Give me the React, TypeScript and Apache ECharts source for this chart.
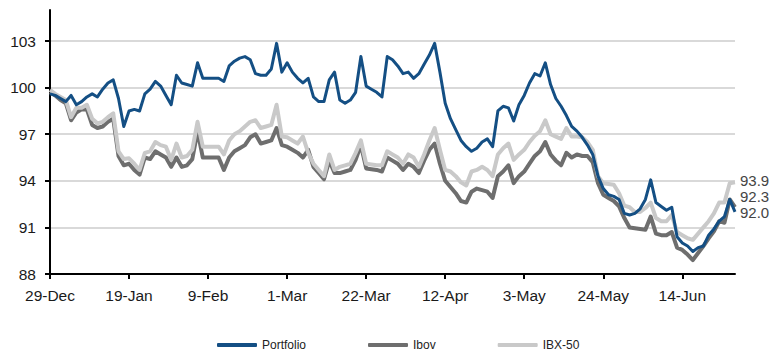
import React, { useEffect, useRef } from "react";
import * as echarts from "echarts";

// Business days from 29-Dec-2015 to 28-Jun-2016
const MONTHS = ["Jan", "Feb", "Mar", "Apr", "May", "Jun", "Jul", "Aug", "Sep", "Oct", "Nov", "Dec"];
function businessDays(start: Date, end: Date): string[] {
  const out: string[] = [];
  const d = new Date(start.getTime());
  while (d.getTime() <= end.getTime()) {
    const wd = d.getUTCDay();
    if (wd !== 0 && wd !== 6) out.push(`${d.getUTCDate()}-${MONTHS[d.getUTCMonth()]}`);
    d.setUTCDate(d.getUTCDate() + 1);
  }
  return out;
}
const dates = businessDays(new Date(Date.UTC(2015, 11, 29)), new Date(Date.UTC(2016, 5, 28)));

const portfolio = [
  99.6, 99.5, 99.3, 99.1, 99.5, 98.9, 99.1, 99.4, 99.6, 99.4,
  99.9, 100.3, 100.5, 99.3, 97.5, 98.5, 98.6, 98.5, 99.6, 99.9,
  100.4, 100.1, 99.5, 98.9, 100.8, 100.3, 100.2, 100.1, 101.6, 100.6,
  100.6, 100.6, 100.6, 100.4, 101.4, 101.7, 101.9, 102.0, 101.8, 100.9,
  100.8, 100.8, 101.2, 102.85, 101.0, 101.6, 101.0, 100.6, 100.3, 100.6,
  99.4, 99.1, 99.1, 100.5, 101.0, 99.2, 99.0, 99.2, 99.7, 102.0,
  100.1, 99.9, 99.7, 99.4, 102.0, 101.8, 101.4, 100.9, 101.0, 100.6,
  100.9, 101.5, 102.1, 102.85, 101.0, 99.0, 98.0, 97.3, 96.6, 96.2,
  95.9, 96.1, 96.5, 96.7, 96.2, 98.5, 98.8, 98.7, 97.85, 98.9,
  99.5, 100.3, 100.9, 100.75, 101.6, 100.2, 99.3, 98.8, 98.2, 97.5,
  97.2, 96.8, 96.3, 95.7, 94.3, 93.5, 93.1, 93.0, 92.8, 91.9,
  91.8, 91.9, 92.2, 92.8, 94.06, 92.6, 92.35, 92.1, 92.3, 90.4,
  90.0, 89.8, 89.45, 89.7, 89.8, 90.5, 90.9, 91.4, 91.7, 92.8,
  92.0,
];

const ibov = [
  99.7, 99.5, 99.2, 99.0, 97.9, 98.4, 98.6, 98.6, 97.6, 97.4,
  97.5, 97.8, 98.0, 95.6, 95.0, 95.1, 94.7, 94.4, 95.5, 95.4,
  95.9, 95.7, 95.5, 94.9, 95.5, 94.9, 95.0, 95.4, 97.2, 95.5,
  95.5, 95.5, 95.5, 94.7, 95.5, 95.9, 96.1, 96.3, 96.8, 97.0,
  96.4, 96.5, 96.6, 97.4, 96.3, 96.2, 96.0, 95.8, 95.5, 96.0,
  94.9, 94.5, 94.1, 95.3, 94.5, 94.5, 94.6, 94.7, 95.35, 96.3,
  94.8, 94.75, 94.7, 94.6, 95.5, 95.3, 95.1, 94.7, 95.1, 94.9,
  94.5, 95.3, 96.0, 96.4, 95.1, 94.0, 93.6, 93.2, 92.7, 92.6,
  93.3, 93.5, 93.4, 93.3, 92.9, 94.3, 94.6, 95.0, 93.85, 94.3,
  94.6, 95.1, 95.6, 95.9, 96.5, 95.7, 95.3, 95.0, 95.8, 95.5,
  95.7, 95.6, 95.6, 95.2, 93.85, 93.1, 92.9, 92.7, 92.35, 91.6,
  91.0, 90.95, 90.9, 90.85, 91.7, 90.6, 90.5, 90.5, 90.7, 89.7,
  89.55, 89.25, 88.9, 89.35, 89.8, 90.3, 90.75, 91.4, 91.3, 92.8,
  92.3,
];

const ibx50 = [
  99.85, 99.6, 99.4, 99.2, 98.1, 98.7, 98.7, 98.9, 98.0, 97.7,
  97.8, 98.1, 98.35, 95.9, 95.4, 95.45, 95.1, 94.7, 95.8, 95.9,
  96.5, 96.3, 96.2, 95.35, 96.4, 95.5, 95.6, 96.0, 97.8, 96.2,
  96.2, 96.2, 96.2, 95.7, 96.6, 97.0, 97.2, 97.5, 97.8, 97.9,
  97.4, 97.5, 97.6, 98.9, 96.85, 96.8, 96.6, 96.4, 96.85, 95.8,
  95.1, 94.7, 94.3, 95.7, 94.7, 94.9, 95.0, 95.1, 95.8, 96.6,
  95.1, 95.05, 95.0, 95.0, 95.9, 95.7, 95.5, 95.1, 95.7, 95.5,
  94.9, 95.7, 96.6, 97.4, 96.0, 94.7, 94.6, 94.3, 93.9, 93.7,
  94.6, 94.7, 94.9, 94.7, 94.3, 95.7, 96.1, 96.4, 95.35, 95.7,
  96.0, 96.5, 96.9, 97.2, 97.9, 97.0, 96.85, 96.7, 97.4, 96.85,
  96.85, 96.8, 96.5, 96.0, 94.3, 93.85, 93.8, 93.75, 93.2, 92.4,
  92.3, 92.0, 92.0, 92.25, 92.6, 91.6, 91.4, 91.4, 91.8, 90.7,
  90.5, 90.3, 90.2, 90.6, 91.0, 91.4, 91.9, 92.6, 92.6, 93.85,
  93.9,
];

const SANS = "'Liberation Sans', Arial, sans-serif";

const fmt = (p: any) => Number(p.value).toFixed(1);

export default function App() {
  const ref = useRef<HTMLDivElement>(null);

  useEffect(() => {
    if (!ref.current) return;
    const chart = echarts.init(ref.current, null, { renderer: "svg" });
    chart.setOption({
      animation: false,
      backgroundColor: "#ffffff",
      grid: { left: 50, right: 35, top: 10, bottom: 77 },
      legend: {
        left: 212,
        top: 334,
        itemWidth: 40,
        itemHeight: 4,
        itemGap: 62,
        icon: "roundRect",
        textStyle: { fontFamily: SANS, fontSize: 12, color: "#222" },
        data: ["Portfolio", "Ibov", "IBX-50"],
      },
      xAxis: {
        type: "category",
        data: dates,
        boundaryGap: false,
        axisLine: { lineStyle: { color: "#000", width: 2 } },
        axisTick: { interval: 14, length: 5, lineStyle: { color: "#000", width: 2 } },
        axisLabel: { interval: 14, color: "#1a1a1a", fontFamily: SANS, fontSize: 15.5, margin: 13 },
        splitLine: { show: false },
      },
      yAxis: {
        type: "value",
        min: 88,
        max: 105,
        interval: 3,
        axisLine: { show: true, lineStyle: { color: "#000", width: 2 } },
        axisTick: { show: true, length: 5, lineStyle: { color: "#000", width: 2 } },
        axisLabel: { showMaxLabel: false, color: "#1a1a1a", fontFamily: SANS, fontSize: 15.5, margin: 14 },
        splitLine: {
          show: true,
          showMaxLine: false,
          showMinLine: false,
          lineStyle: { color: "#d9d9d9", width: 2 },
        },
      },
      series: [
        {
          name: "Portfolio",
          type: "line",
          data: portfolio,
          symbol: "none",
          z: 4,
          color: "#144f84",
          lineStyle: { width: 3, color: "#144f84", join: "round" },
          endLabel: { show: true, formatter: fmt, distance: 5, offset: [0, 1], color: "#444", fontFamily: SANS, fontSize: 15 },
        },
        {
          name: "Ibov",
          type: "line",
          data: ibov,
          symbol: "none",
          z: 2,
          color: "#6e6e6e",
          lineStyle: { width: 4, color: "#6e6e6e", join: "round" },
          endLabel: { show: true, formatter: fmt, distance: 5, offset: [0, -11], color: "#444", fontFamily: SANS, fontSize: 15 },
        },
        {
          name: "IBX-50",
          type: "line",
          data: ibx50,
          symbol: "none",
          z: 3,
          color: "#c9c9c9",
          lineStyle: { width: 4, color: "#c9c9c9", join: "round" },
          endLabel: { show: true, formatter: fmt, distance: 5, offset: [0, -2], color: "#444", fontFamily: SANS, fontSize: 15 },
        },
      ],
    });
    return () => chart.dispose();
  }, []);

  return (
    <div
      ref={ref}
      style={{ position: "fixed", left: 0, top: 0, width: 770, height: 351 }}
    />
  );
}
